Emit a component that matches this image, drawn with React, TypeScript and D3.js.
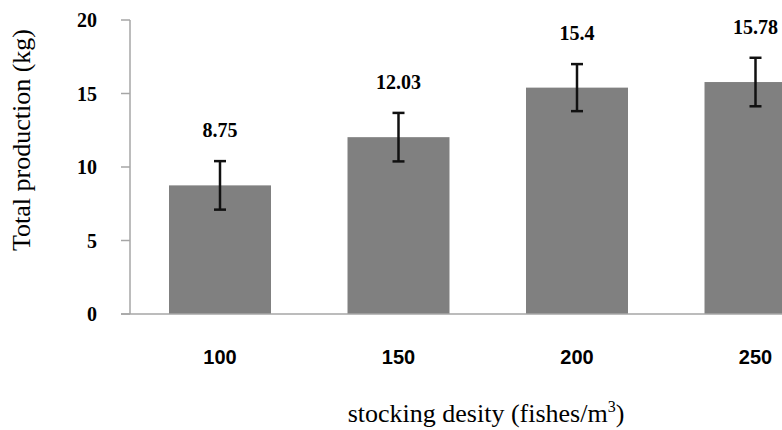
import React from "react";
import * as d3 from "d3";

const categories = ["100", "150", "200", "250"];
const values = [8.75, 12.03, 15.4, 15.78];
const errors = [1.65, 1.65, 1.6, 1.65];
const valueLabels = ["8.75", "12.03", "15.4", "15.78"];
const yTicks = [0, 5, 10, 15, 20];

const W = 782;
const H = 430;

export default function App() {
  const x = d3
    .scaleBand<string>()
    .domain(categories)
    .range([130, 845.5])
    .paddingInner(0.4286)
    .paddingOuter(0.2185);
  const y = d3.scaleLinear().domain([0, 20]).range([314, 20]);
  const axisColor = "#a6a6a6";
  const serif = "'Liberation Serif', 'Times New Roman', serif";
  const sans = "'Liberation Sans', Arial, sans-serif";
  const bw = x.bandwidth();

  return (
    <svg
      width={W}
      height={H}
      style={{ position: "absolute", left: 0, top: 0, background: "#fff" }}
    >
      {/* bars */}
      {categories.map((c, i) => (
        <rect
          key={c}
          x={x(c)!}
          y={y(values[i])}
          width={bw}
          height={y(0) - y(values[i])}
          fill="#808080"
        />
      ))}
      {/* axes */}
      <line x1={130} x2={130} y1={y(20)} y2={y(0)} stroke={axisColor} strokeWidth={1.5} />
      <line x1={121} x2={W} y1={y(0)} y2={y(0)} stroke={axisColor} strokeWidth={1.5} />
      {yTicks.map((t) => (
        <g key={t}>
          <line x1={121} x2={130} y1={y(t)} y2={y(t)} stroke={axisColor} strokeWidth={1.5} />
          <text
            x={97}
            y={y(t) + 7}
            textAnchor="end"
            fontFamily={serif}
            fontWeight="bold"
            fontSize={20}
            fill="#000"
          >
            {t}
          </text>
        </g>
      ))}
      {/* error bars */}
      {categories.map((c, i) => {
        const cx = x(c)! + bw / 2;
        const top = y(values[i] + errors[i]);
        const bot = y(values[i] - errors[i]);
        return (
          <g key={c} stroke="#111" strokeWidth={2.5}>
            <line x1={cx} x2={cx} y1={top} y2={bot} />
            <line x1={cx - 6} x2={cx + 6} y1={top} y2={top} />
            <line x1={cx - 6} x2={cx + 6} y1={bot} y2={bot} />
          </g>
        );
      })}
      {/* value labels */}
      {categories.map((c, i) => (
        <text
          key={c}
          x={x(c)! + bw / 2}
          y={y(values[i] + errors[i]) - 24}
          textAnchor="middle"
          fontFamily={serif}
          fontWeight="bold"
          fontSize={20}
          fill="#000"
        >
          {valueLabels[i]}
        </text>
      ))}
      {/* x tick labels */}
      {categories.map((c) => (
        <text
          key={c}
          x={x(c)! + bw / 2}
          y={364}
          textAnchor="middle"
          fontFamily={sans}
          fontWeight="bold"
          fontSize={20}
          fill="#000"
        >
          {c}
        </text>
      ))}
      {/* axis titles */}
      <text
        transform={`translate(30,140) rotate(-90)`}
        textAnchor="middle"
        fontFamily={serif}
        fontSize={26}
        fill="#000"
      >
        Total production (kg)
      </text>
      <text
        x={486}
        y={422}
        textAnchor="middle"
        fontFamily={serif}
        fontSize={26}
        fill="#000"
      >
        stocking desity (fishes/m
        <tspan fontSize={16} dy={-10}>3</tspan>
        <tspan dy={10}>)</tspan>
      </text>
    </svg>
  );
}
